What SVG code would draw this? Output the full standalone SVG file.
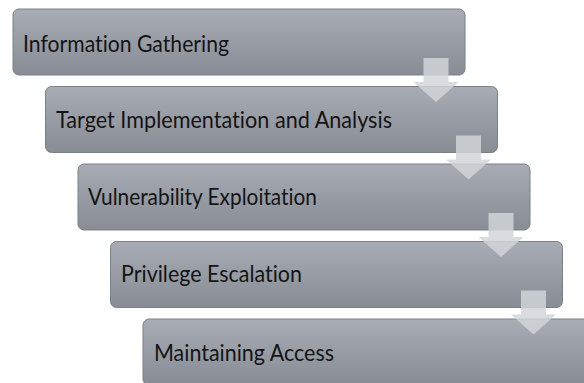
<svg xmlns="http://www.w3.org/2000/svg" width="584" height="383" viewBox="0 0 584 383">
  <defs>
    <linearGradient id="boxFill" x1="0" y1="0" x2="0" y2="1">
      <stop offset="0" stop-color="#a8acb4"/>
      <stop offset="1" stop-color="#878c95"/>
    </linearGradient>
    <!-- downward block arrow, origin at the top-left of the shaft -->
    <path id="downArrow" d="M0 0 H25 V24 H35 L12.5 44 L-10 24 H0 Z"/>
  </defs>
  <style>
    .step rect { fill: url(#boxFill); stroke: #7b8088; stroke-width: 1; }
    .step text { font-family: "Lato", "Liberation Sans", sans-serif; font-size: 23px; fill: #141414; font-variant-ligatures: none; font-feature-settings: "liga" 0, "dlig" 0; }
    #connectors use { fill: #d2d5d9; fill-opacity: 0.84; }
  </style>

  <g id="step1" class="step">
    <rect x="13" y="9" width="452" height="66" rx="6"/>
    <text x="23" y="51.5" textLength="206" lengthAdjust="spacingAndGlyphs">Information Gathering</text>
  </g>
  <g id="step2" class="step">
    <rect x="45.5" y="86.5" width="452" height="66" rx="6"/>
    <text x="56" y="127.5" textLength="336" lengthAdjust="spacingAndGlyphs">Target Implementation and Analysis</text>
  </g>
  <g id="step3" class="step">
    <rect x="78" y="164" width="452" height="66" rx="6"/>
    <text x="88" y="205" textLength="229" lengthAdjust="spacingAndGlyphs">Vulnerability Exploitation</text>
  </g>
  <g id="step4" class="step">
    <rect x="110.5" y="241.5" width="452" height="66" rx="6"/>
    <text x="121" y="282" textLength="181" lengthAdjust="spacingAndGlyphs">Privilege Escalation</text>
  </g>
  <g id="step5" class="step">
    <rect x="143" y="319" width="452" height="66" rx="6"/>
    <text x="154" y="360.5" textLength="180" lengthAdjust="spacingAndGlyphs">Maintaining Access</text>
  </g>

  <g id="connectors">
    <use href="#downArrow" x="423.5" y="58"/>
    <use href="#downArrow" x="456" y="135.5"/>
    <use href="#downArrow" x="488.5" y="213"/>
    <use href="#downArrow" x="521" y="290.5"/>
  </g>
</svg>
